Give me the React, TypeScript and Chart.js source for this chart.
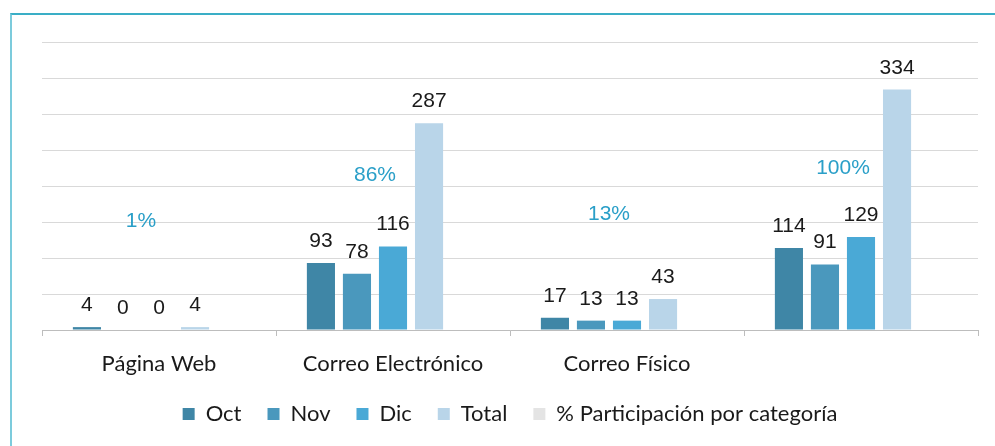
import React, { useEffect, useRef } from "react";
import { Chart, registerables } from "chart.js";

Chart.register(...registerables);

const categories = ["Página Web", "Correo Electrónico", "Correo Físico", ""];
const octValues = [4, 93, 17, 114];
const novValues = [0, 78, 13, 91];
const dicValues = [0, 116, 13, 129];
const totalValues = [4, 287, 43, 334];
const participationPct = [1, 86, 13, 100];
const seriesNames = ["Oct", "Nov", "Dic", "Total", "% Participación por categoría"];
const seriesColors = ["#3f86a6", "#4a98bd", "#4aa9d6", "#b9d5e9", "#e4e4e4"];
const yMax = 400;
const yStep = 50;

const labelPlugin = {
  id: "valueLabels",
  afterDatasetsDraw(chart: any) {
    const ctx = chart.ctx;
    ctx.save();
    ctx.textAlign = "center";
    ctx.textBaseline = "alphabetic";
    ctx.font = "21px 'Liberation Sans', Arial, sans-serif";
    ctx.fillStyle = "#1a1a1a";
    for (let d = 0; d < 4; d++) {
      const meta = chart.getDatasetMeta(d);
      const data = chart.data.datasets[d].data;
      meta.data.forEach((el: any, i: number) => {
        ctx.fillText(String(data[i]), el.x, el.y - 16);
      });
    }
    const pctMeta = chart.getDatasetMeta(4);
    const first = chart.getDatasetMeta(0);
    const last = chart.getDatasetMeta(3);
    const yPct = chart.scales.yPct;
    ctx.font = "21px 'Liberation Sans', Arial, sans-serif";
    ctx.fillStyle = "#2a9fc8";
    ctx.textBaseline = "middle";
    pctMeta.data.forEach((_el: any, i: number) => {
      const x = (first.data[i].x + last.data[i].x) / 2;
      const y = yPct.getPixelForValue(participationPct[i]);
      ctx.fillText(participationPct[i] + "%", x, y);
    });
    ctx.restore();
  },
};

export default function App() {
  const ref = useRef<HTMLCanvasElement | null>(null);
  useEffect(() => {
    if (!ref.current) return;
    const values = [octValues, novValues, dicValues, totalValues];
    const datasets: any[] = values.map((v, i) => ({
      label: seriesNames[i],
      data: v,
      backgroundColor: seriesColors[i],
      borderWidth: 0,
      yAxisID: "y",
      barPercentage: 0.78,
      categoryPercentage: 0.77,
    }));
    datasets.push({
      label: seriesNames[4],
      data: participationPct,
      backgroundColor: "rgba(0,0,0,0)",
      borderWidth: 0,
      yAxisID: "yPct",
      barPercentage: 0.78,
      categoryPercentage: 0.77,
    });
    const chart = new Chart(ref.current, {
      type: "bar",
      data: { labels: categories, datasets },
      plugins: [labelPlugin],
      options: {
        animation: false,
        responsive: true,
        maintainAspectRatio: false,
        layout: { padding: { left: 30, right: 17, top: 27, bottom: 11 } },
        plugins: {
          tooltip: { enabled: false },
          legend: {
            position: "bottom",
            labels: {
              boxWidth: 12,
              boxHeight: 12,
              padding: 26,
              color: "#1a1a1a",
              font: { family: "Lato, 'Open Sans', sans-serif", size: 22 },
              generateLabels(c: any) {
                const items = Chart.defaults.plugins.legend.labels.generateLabels(c);
                items.forEach((it: any, i: number) => {
                  it.fillStyle = seriesColors[i];
                  it.strokeStyle = seriesColors[i];
                  it.lineWidth = 0;
                });
                return items;
              },
            },
          },
        },
        scales: {
          x: {
            afterFit(scale: any) {
              scale.height = 47;
            },
            grid: {
              display: true,
              drawOnChartArea: false,
              drawTicks: true,
              tickLength: 6,
              color: "#bdbdbd",
              offset: true,
            },
            border: { color: "#bdbdbd" },
            ticks: {
              padding: 15,
              color: "#1a1a1a",
              font: { family: "Lato, 'Open Sans', sans-serif", size: 22 },
            },
          },
          y: {
            min: 0,
            max: yMax,
            ticks: { display: false, stepSize: yStep },
            grid: { color: "#d9d9d9", drawTicks: false },
            border: { display: false },
          },
          yPct: {
            display: false,
            min: -203,
            max: 335,
          },
        },
      },
    });
    return () => chart.destroy();
  }, []);

  return (
    <div
      style={{
        position: "absolute",
        left: 10,
        top: 13,
        width: 985,
        height: 433,
        borderTop: "2px solid #3aaec6",
        borderLeft: "2px solid #7ccbdc",
        boxSizing: "border-box",
        background: "#fff",
      }}
    >
      <div style={{ position: "absolute", left: 0, top: 0, width: 983, height: 431 }}>
        <canvas ref={ref} />
      </div>
    </div>
  );
}
